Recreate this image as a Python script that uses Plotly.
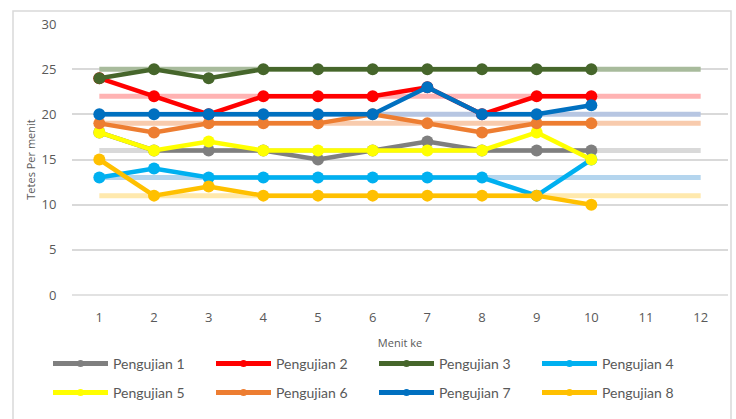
import plotly.graph_objects as go

menit = [1, 2, 3, 4, 5, 6, 7, 8, 9, 10]
menit_ref = [1, 12]
x_ticks = [1, 2, 3, 4, 5, 6, 7, 8, 9, 10, 11, 12]

names = ["Pengujian 1", "Pengujian 2", "Pengujian 3", "Pengujian 4",
         "Pengujian 5", "Pengujian 6", "Pengujian 7", "Pengujian 8"]

pengujian_1 = [18, 16, 16, 16, 15, 16, 17, 16, 16, 16]
pengujian_2 = [24, 22, 20, 22, 22, 22, 23, 20, 22, 22]
pengujian_3 = [24, 25, 24, 25, 25, 25, 25, 25, 25, 25]
pengujian_4 = [13, 14, 13, 13, 13, 13, 13, 13, 11, 15]
pengujian_5 = [18, 16, 17, 16, 16, 16, 16, 16, 18, 15]
pengujian_6 = [19, 18, 19, 19, 19, 20, 19, 18, 19, 19]
pengujian_7 = [20, 20, 20, 20, 20, 20, 23, 20, 20, 21]
pengujian_8 = [15, 11, 12, 11, 11, 11, 11, 11, 11, 10]

# faded reference levels (one per series)
ref_levels = [16, 22, 25, 13, 16, 19, 20, 11]

colors = ["#7F7F7F", "#FF0000", "#46662B", "#00B0F0",
          "#FFFF00", "#ED7D31", "#0070C0", "#FFC000"]
faded = ["#D9D9D9", "#FFB3B3", "#A8BB9C", "#B4D5EE",
         None, "#F8CBAD", "#B7C6E2", "#FFE9AD"]

series = [pengujian_1, pengujian_2, pengujian_3, pengujian_4,
          pengujian_5, pengujian_6, pengujian_7, pengujian_8]

fig = go.Figure()

for lvl, fc in zip(ref_levels, faded):
    if fc is None:
        continue
    fig.add_trace(go.Scatter(
        x=menit_ref, y=[lvl, lvl], mode="lines",
        line=dict(color=fc, width=5), showlegend=False, hoverinfo="skip"))

for i, (name, vals, c) in enumerate(zip(names, series, colors)):
    fig.add_trace(go.Scatter(
        x=menit, y=vals, name=name, mode="lines+markers",
        line=dict(color=c, width=4.5),
        marker=dict(color=c, size=12),
        legendgroup=name, showlegend=False))

# legend entries (small marker like the original legend)
for i, (name, c) in enumerate(zip(names, colors)):
    fig.add_trace(go.Scatter(
        x=[None], y=[None], name=name, mode="lines+markers",
        line=dict(color=c, width=5), marker=dict(color=c, size=7),
        legendgroup=name, legend="legend" if i < 4 else "legend2"))

leg_common = dict(
    orientation="h", x=(48 - 72) / 656, xanchor="left", yanchor="middle",
    entrywidth=93, entrywidthmode="pixels", itemwidth=55,
    font=dict(family="Lato", size=14, color="#595959"),
    itemsizing="trace", bgcolor="rgba(0,0,0,0)",
)

fig.update_layout(
    width=736, height=419,
    margin=dict(l=72, r=8, t=24, b=124),
    paper_bgcolor="white", plot_bgcolor="white",
    font=dict(family="Open Sans", color="#595959"),
    showlegend=True,
    legend=dict(y=(295 - 364) / 271, **leg_common),
    legend2=dict(y=(295 - 393) / 271, **leg_common),
    xaxis=dict(
        range=[0.5, 12.5], tickmode="array", tickvals=x_ticks,
        showgrid=False, zeroline=False, showline=False,
        ticks="outside", ticklen=10, tickcolor="rgba(0,0,0,0)",
        tickfont=dict(size=13, color="#595959"),
        title=dict(text="Menit ke", font=dict(size=11, color="#595959"), standoff=14),
    ),
    yaxis=dict(
        range=[0, 30], dtick=5, showgrid=True, gridcolor="#D9D9D9", gridwidth=1.5,
        zeroline=False, showline=False,
        ticks="outside", ticklen=12, tickcolor="rgba(0,0,0,0)",
        tickfont=dict(size=13, color="#595959"),
        title=dict(text="Tetes Per menit", font=dict(size=11, color="#595959"), standoff=3),
    ),
    shapes=[
        dict(type="line", xref="paper", yref="paper", x0=0, x1=1, y0=0, y1=0,
             line=dict(color="#D9D9D9", width=1.5), layer="below"),
        dict(type="rect", xref="paper", yref="paper",
             x0=(13 - 72) / 656, x1=(731 - 72) / 656,
             y0=(295 - 430) / 271, y1=(295 - 11) / 271,
             line=dict(color="#D9D9D9", width=1.5), fillcolor="rgba(0,0,0,0)"),
    ],
)

fig.write_html("out.html", config={"displayModeBar": False},
               post_script="document.body.style.margin='0';document.body.style.padding='0';")
